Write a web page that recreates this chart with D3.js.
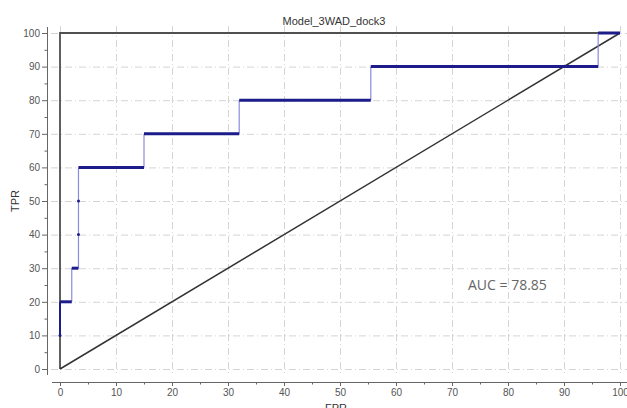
<!DOCTYPE html>
<html>
<head>
<meta charset="utf-8">
<script src="https://cdn.jsdelivr.net/npm/d3@7"></script>
<style>
    body { margin: 0; background: #fff; }
    svg { display: block; font-family: "Liberation Sans", Arial, sans-serif; }
</style>
</head>
<body>
<svg id="chart" width="627" height="408"></svg>
<script>
// chart data
let chartTitle = "Model_3WAD_dock3";
let xTitle = "FPR";
let yTitle = "TPR";
let aucLabel = "AUC = 78.85";

// ROC steps: horizontal segments (level, from, to)
let rocLevels = [20, 30, 60, 70, 80, 90, 100];
let rocFrom = [0, 2.1, 3.3, 15, 32, 55.5, 96.1];
let rocTo = [2.1, 3.3, 15, 32, 55.5, 96.1, 100];
// small markers on the vertical parts
let markerX = [0, 3.3, 3.3];
let markerY = [10, 40, 50];

let tickValues = [0, 10, 20, 30, 40, 50, 60, 70, 80, 90, 100];
let minorTicks = [5, 15, 25, 35, 45, 55, 65, 75, 85, 95];

let svg = d3.select("#chart");

let x = d3.scaleLinear().domain([0, 100]).range([60, 620]);
let y = d3.scaleLinear().domain([0, 100]).range([369, 33]);

// plot area bounds (a bit wider than 0..100)
let plotLeft = 51, plotRight = 627, plotTop = 26, plotBottom = 376;

// grid
let grid = svg.append("g")
    .attr("stroke", "#d4d4d4")
    .attr("stroke-width", 1)
    .attr("stroke-dasharray", "7,3,1,3");

grid.selectAll(".vx").data(tickValues).enter().append("line")
    .attr("x1", d => x(d) + 0.5).attr("x2", d => x(d) + 0.5)
    .attr("y1", plotTop).attr("y2", plotBottom);

grid.selectAll(".hy").data(tickValues).enter().append("line")
    .attr("x1", plotLeft).attr("x2", plotRight)
    .attr("y1", d => y(d) + 0.5).attr("y2", d => y(d) + 0.5);

// perfect classifier line
svg.append("path")
    .attr("d", d3.line()([[x(0), y(0)], [x(0), y(100)], [x(100), y(100)]]))
    .attr("fill", "none")
    .attr("stroke", "#505050")
    .attr("stroke-width", 1.8);

// diagonal
svg.append("line")
    .attr("x1", x(0)).attr("y1", y(0))
    .attr("x2", x(100)).attr("y2", y(100))
    .attr("stroke", "#333")
    .attr("stroke-width", 1.5);

// vertical parts of the ROC curve (thin)
let rocG = svg.append("g");
for (let i = 1; i < rocLevels.length; i++) {
    rocG.append("line")
        .attr("x1", x(rocFrom[i])).attr("x2", x(rocFrom[i]))
        .attr("y1", y(rocLevels[i - 1])).attr("y2", y(rocLevels[i]))
        .attr("stroke", "#8a8ae0")
        .attr("stroke-width", 1.2);
}
// first vertical piece on the y axis
rocG.append("line")
    .attr("x1", x(0)).attr("x2", x(0))
    .attr("y1", y(markerY[0])).attr("y2", y(rocLevels[0]))
    .attr("stroke", "#1c1c8a")
    .attr("stroke-width", 2);

// horizontal parts (thick)
for (let i = 0; i < rocLevels.length; i++) {
    rocG.append("line")
        .attr("x1", x(rocFrom[i])).attr("x2", x(rocTo[i]))
        .attr("y1", y(rocLevels[i])).attr("y2", y(rocLevels[i]))
        .attr("stroke", "#1c1c8a")
        .attr("stroke-width", 3);
}

rocG.selectAll("circle").data(markerX).enter().append("circle")
    .attr("cx", d => x(d))
    .attr("cy", (d, i) => y(markerY[i]))
    .attr("r", 1.5)
    .attr("fill", "#1c1c8a");

// x axis
let xAxisG = svg.append("g")
    .attr("transform", "translate(0,382)")
    .call(d3.axisBottom(x).tickValues(tickValues).tickSize(4).tickPadding(3).tickFormat(d3.format("d")));
xAxisG.select(".domain").attr("d", "M52,0.5H627").attr("stroke", "#666");
xAxisG.selectAll(".tick line").attr("stroke", "#666");
xAxisG.selectAll(".tick text").attr("fill", "#555").style("font-size", "10px");
xAxisG.selectAll(".minor").data(minorTicks).enter().append("line")
    .attr("x1", d => x(d) + 0.5).attr("x2", d => x(d) + 0.5)
    .attr("y1", 0).attr("y2", 2.5)
    .attr("stroke", "#666");

// y axis
let yAxisG = svg.append("g")
    .attr("transform", "translate(47,0)")
    .call(d3.axisLeft(y).tickValues(tickValues).tickSize(5).tickPadding(2).tickFormat(d3.format("d")));
yAxisG.select(".domain").attr("d", "M0.5,27V375").attr("stroke", "#666");
yAxisG.selectAll(".tick line").attr("stroke", "#666");
yAxisG.selectAll(".tick text").attr("fill", "#555").style("font-size", "10px");
yAxisG.selectAll(".minor").data(minorTicks).enter().append("line")
    .attr("y1", d => y(d) + 0.5).attr("y2", d => y(d) + 0.5)
    .attr("x1", 0).attr("x2", -2.5)
    .attr("stroke", "#666");

// titles
svg.append("text")
    .attr("x", 334).attr("y", 25)
    .attr("text-anchor", "middle")
    .attr("fill", "#333")
    .style("font-size", "11px")
    .text(chartTitle);

svg.append("text")
    .attr("x", 336).attr("y", 412)
    .attr("text-anchor", "middle")
    .attr("fill", "#333")
    .style("font-size", "11px")
    .text(xTitle);

svg.append("text")
    .attr("transform", "translate(19,201) rotate(-90)")
    .attr("text-anchor", "middle")
    .attr("fill", "#333")
    .style("font-size", "11px")
    .text(yTitle);

svg.append("text")
    .attr("x", 468).attr("y", 290)
    .attr("fill", "#666")
    .style("font-family", "'Open Sans', sans-serif")
    .style("font-size", "14px")
    .text(aucLabel);
</script>
</body>
</html>
